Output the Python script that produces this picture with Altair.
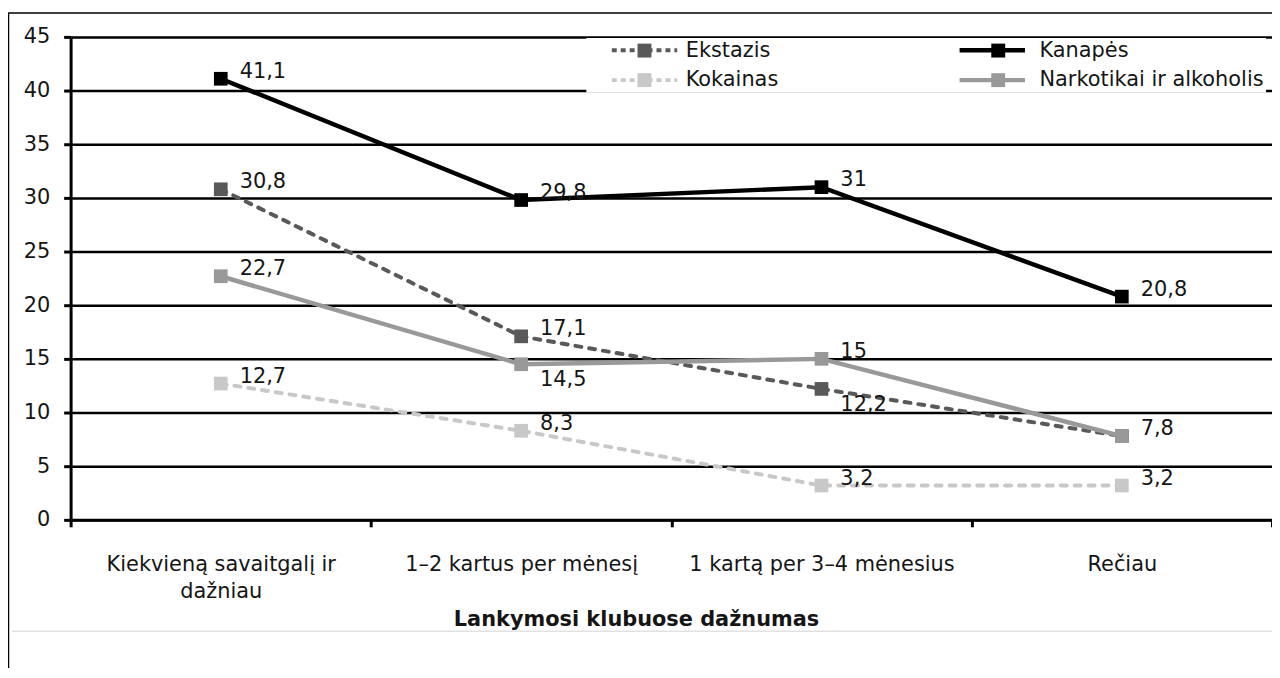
import altair as alt
import pandas as pd

categories = [
    "Kiekvieną savaitgalį ir dažniau",
    "1–2 kartus per mėnesį",
    "1 kartą per 3–4 mėnesius",
    "Rečiau",
]
series_names = ["Ekstazis", "Kanapės", "Kokainas", "Narkotikai ir alkoholis"]
ekstazis = [30.8, 17.1, 12.2, 7.8]
kanapes = [41.1, 29.8, 31, 20.8]
kokainas = [12.7, 8.3, 3.2, 3.2]
narkotikai = [22.7, 14.5, 15, 7.8]
y_ticks = [0, 5, 10, 15, 20, 25, 30, 35, 40, 45]

series_colors = ["#595959", "#000000", "#c8c8c8", "#999999"]
dashed_series = ["Ekstazis", "Kokainas"]
solid_series = ["Kanapės", "Narkotikai ir alkoholis"]
legend_order = dashed_series + solid_series
labels_below = [
    ("Narkotikai ir alkoholis", "1–2 kartus per mėnesį"),
    ("Ekstazis", "1 kartą per 3–4 mėnesius"),
]
labels_hidden = [("Ekstazis", "Rečiau")]

color_of = dict(zip(series_names, series_colors))

rows = []
for name, vals in zip(series_names, [ekstazis, kanapes, kokainas, narkotikai]):
    for cat, v in zip(categories, vals):
        rows.append({"serija": name, "daznumas": cat, "procentai": v,
                     "apacioje": (name, cat) in labels_below,
                     "slepti": (name, cat) in labels_hidden})
df = pd.DataFrame(rows)

FONT = "DejaVu Sans"
FS = 21
TXT = "#151515"

x_enc = alt.X(
    "daznumas:N",
    scale=alt.Scale(type="band", domain=categories, paddingInner=0, paddingOuter=0),
    bandPosition=0.5,
    axis=alt.Axis(
        title="Lankymosi klubuose dažnumas",
        titleFontSize=FS, titleFontWeight="bold", titleFont=FONT, titleColor=TXT,
        titleX=569, titleY=100, titleBaseline="middle",
        labelFontSize=FS, labelFont=FONT, labelColor=TXT, labelAngle=0,
        labelPadding=27, labelLimit=0, labelLineHeight=27,
        labelExpr="datum.label == 'Kiekvieną savaitgalį ir dažniau' ? ['Kiekvieną savaitgalį ir', 'dažniau'] : datum.label",
        tickBand="extent", tickSize=7, tickWidth=3, tickColor="black",
        domainColor="black", domainWidth=3, grid=False,
    ),
)
y_enc = alt.Y(
    "procentai:Q",
    scale=alt.Scale(domain=[0, 45], nice=False),
    axis=alt.Axis(
        title=None, values=y_ticks, labelFontSize=FS, labelFont=FONT, labelColor=TXT,
        labelPadding=14, tickSize=7, tickWidth=3, tickColor="black",
        domainColor="black", domainWidth=3,
        grid=True, gridColor="black", gridWidth=2.5,
    ),
)

LEG_X = 519
LEG_Y = 1
COL_W = 186
COL_PAD = 164
common_legend = dict(
    title=None, orient="none", legendY=LEG_Y, padding=2,
    symbolSize=196, symbolOffset=46, labelOffset=31,
    labelFontSize=FS, labelFont=FONT, labelColor=TXT, labelLimit=0,
    rowPadding=8,
)
square_legend = alt.Legend(
    legendX=LEG_X, columns=2, columnPadding=COL_PAD, fillColor="white",
    symbolType="square", zindex=0, **common_legend,
)
dashed_legend = alt.Legend(
    legendX=LEG_X, symbolType="M-4.7,0H4.7", symbolStrokeWidth=4,
    symbolDash=[5, 4], labelExpr="''", zindex=1, **common_legend,
)
solid_legend = alt.Legend(
    legendX=LEG_X + COL_W + COL_PAD, symbolType="M-4.7,0H4.7", symbolStrokeWidth=4.5,
    labelExpr="''", zindex=1, **common_legend,
)

base = alt.Chart(df)

lines_dashed = base.transform_filter(
    alt.FieldOneOfPredicate(field="serija", oneOf=dashed_series)
).mark_line(strokeWidth=4, strokeCap="round", strokeDash=[6, 8]).encode(
    x=x_enc, y=y_enc,
    color=alt.Color("serija:N", scale=alt.Scale(domain=dashed_series,
                    range=[color_of[s] for s in dashed_series]), legend=dashed_legend),
)
lines_solid = base.transform_filter(
    alt.FieldOneOfPredicate(field="serija", oneOf=solid_series)
).mark_line(strokeWidth=4.5, strokeCap="round").encode(
    x=x_enc, y=y_enc,
    color=alt.Color("serija:N", scale=alt.Scale(domain=solid_series,
                    range=[color_of[s] for s in solid_series]), legend=solid_legend),
)
points = base.mark_square(size=190, opacity=1, filled=True).encode(
    x=x_enc, y=y_enc,
    color=alt.Color("serija:N", scale=alt.Scale(domain=legend_order,
                    range=[color_of[s] for s in legend_order]), legend=square_legend),
)

label_text = "replace(toString(datum.procentai), '.', ',')"
labels_main = base.transform_filter("!datum.apacioje && !datum.slepti").transform_calculate(
    txt=label_text
).mark_text(align="left", baseline="middle", dx=19, dy=-7, fontSize=FS,
            font=FONT, color=TXT).encode(x=x_enc, y=y_enc, text="txt:N")
labels_low = base.transform_filter("datum.apacioje").transform_calculate(
    txt=label_text
).mark_text(align="left", baseline="middle", dx=19, dy=16, fontSize=FS,
            font=FONT, color=TXT).encode(x=x_enc, y=y_enc, text="txt:N")

frame_df = pd.DataFrame({"k": [0]})
frame_left = alt.Chart(frame_df).mark_rule(color="black", strokeWidth=1.5).encode(
    x=alt.value(-62.5), y=alt.value(-24), y2=alt.value(680))
frame_top = alt.Chart(frame_df).mark_rule(color="black", strokeWidth=1.5).encode(
    x=alt.value(-63), x2=alt.value(1220), y=alt.value(-24))
faint = alt.Chart(frame_df).mark_rule(color="#e2e2e2", strokeWidth=1.5).encode(
    x=alt.value(-59), x2=alt.value(1220), y=alt.value(598))

chart = alt.layer(
    frame_left, frame_top, faint, lines_dashed, lines_solid, points, labels_main, labels_low
).resolve_scale(color="independent").properties(
    width=1209, height=486,
    autosize=alt.AutoSizeParams(type="none"),
    padding={"left": 63, "top": 27, "right": 0, "bottom": 147},
).configure_view(stroke=None).configure(background="white")

chart.save("out.html", embed_options={"renderer": "svg", "actions": False})
